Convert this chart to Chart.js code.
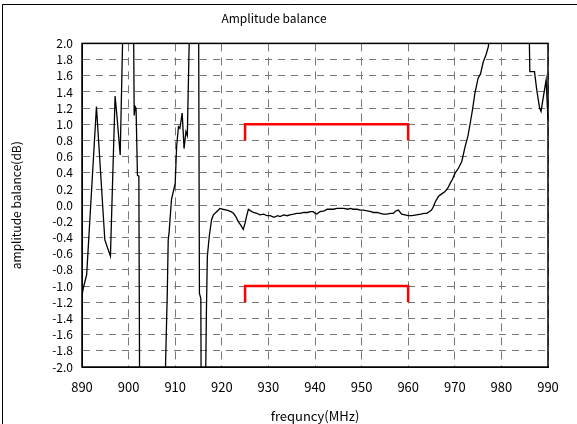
<!DOCTYPE html>
<html>
<head>
<meta charset="utf-8">
<script src="https://cdn.jsdelivr.net/npm/chart.js@4"></script>
<style>
  body { margin: 0; background: #fff; }
  #wrap { width: 577px; height: 424px; }
</style>
</head>
<body>
<div id="wrap"><canvas id="balance-chart" width="577" height="424"></canvas></div>
<script>
const freqMHz = [
  890.0, 890.3, 891.0, 893.1, 894.9, 896.1, 897.1, 897.5, 898.2, 898.7,
  899.0, 901.0, 901.2, 901.4, 901.6, 901.9, 902.2, 902.4, 907.6, 908.0,
  908.3, 908.5, 908.7, 909.2, 910.0, 910.3, 910.7, 911.0, 911.2, 911.5,
  911.9, 912.3, 912.6, 913.0, 913.2, 915.0, 915.2, 915.5, 915.6, 916.4,
  916.7, 916.9, 917.3, 917.8, 918.2, 918.9, 919.6, 920.2, 921.1, 922.0,
  922.5, 923.0, 923.5, 924.1, 924.6, 925.0, 925.3, 925.7, 926.2, 926.8,
  927.5, 928.2, 929.0, 929.7, 930.4, 931.2, 932.0, 932.5, 933.3, 934.0,
  934.6, 935.4, 936.1, 936.8, 937.6, 938.4, 939.0, 939.6, 940.0, 940.4,
  940.8, 941.1, 942.0, 942.6, 943.2, 944.0, 944.7, 945.4, 946.2, 947.0,
  947.6, 948.2, 949.0, 949.8, 950.4, 951.2, 952.0, 952.5, 953.3, 954.0,
  954.7, 955.4, 956.2, 956.8, 957.4, 957.9, 958.3, 958.6, 959.3, 960.0,
  960.8, 961.8, 962.7, 963.4, 964.0, 964.5, 965.0, 965.4, 965.8, 966.5,
  967.2, 967.9, 968.5, 969.0, 969.5, 970.0, 970.8, 971.5, 972.2, 972.8,
  973.3, 973.8, 974.3, 975.0, 975.5, 976.1, 976.7, 977.2, 977.6, 985.9,
  986.1, 987.1, 987.6, 988.2, 988.5, 989.6, 990.0
];
const balanceDb = [
  -1.12, -1.02, -0.86, 1.22, -0.43, -0.63, 1.35, 1.10, 0.62, 2.00,
  2.80, 2.80, 1.11, 1.22, 1.20, 0.37, 0.36, -2.80, -2.80, -1.80,
  -1.09, -0.43, -0.33, 0.07, 0.27, 0.72, 0.97, 0.95, 1.02, 1.14,
  0.70, 0.91, 0.86, 2.00, 2.80, 2.80, -1.09, -1.15, -2.80, -2.80,
  -1.30, -0.63, -0.39, -0.18, -0.12, -0.08, -0.04, -0.05, -0.06, -0.08,
  -0.10, -0.14, -0.20, -0.25, -0.30, -0.22, -0.14, -0.05, -0.07, -0.09,
  -0.10, -0.12, -0.11, -0.13, -0.13, -0.15, -0.13, -0.14, -0.12, -0.13,
  -0.12, -0.11, -0.10, -0.10, -0.09, -0.09, -0.08, -0.08, -0.10, -0.11,
  -0.09, -0.08, -0.07, -0.05, -0.05, -0.05, -0.04, -0.04, -0.04, -0.05,
  -0.04, -0.05, -0.05, -0.06, -0.06, -0.07, -0.08, -0.09, -0.09, -0.10,
  -0.11, -0.11, -0.10, -0.10, -0.07, -0.06, -0.09, -0.11, -0.12, -0.13,
  -0.13, -0.12, -0.11, -0.10, -0.10, -0.08, -0.06, -0.02, 0.04, 0.11,
  0.14, 0.17, 0.21, 0.27, 0.32, 0.39, 0.46, 0.54, 0.72, 0.85,
  1.01, 1.18, 1.38, 1.57, 1.62, 1.77, 1.86, 1.96, 2.20, 2.40,
  1.65, 1.65, 1.42, 1.20, 1.16, 1.55, 1.05
];

// spec limit brackets
const specFreq = [925, 925, 960, 960];
const upperSpec = [0.8, 1.0, 1.0, 0.8];
const lowerSpec = [-1.2, -1.0, -1.0, -1.2];

const xMin = 890, xMax = 990, xStep = 10;
const yMin = -2.0, yMax = 2.0, yStep = 0.2;

const FONT = "'Noto Sans CJK JP', 'Noto Sans', sans-serif";

const pts = (xs, ys) => xs.map((x, i) => ({ x, y: ys[i] }));

const framePlugin = {
    id: 'frame',
    afterDraw(chart) {
        const { ctx, chartArea: a } = chart;
        ctx.save();
        ctx.strokeStyle = '#000';
        ctx.lineWidth = 1.5;
        ctx.strokeRect(a.left, a.top, a.right - a.left, a.bottom - a.top);
        // outer picture border (left and top only, as in the source image)
        ctx.lineWidth = 1;
        ctx.beginPath();
        ctx.moveTo(2.5, 424);
        ctx.lineTo(2.5, 4.5);
        ctx.lineTo(577, 4.5);
        ctx.stroke();
        ctx.restore();
    }
};

const ctx = document.getElementById('balance-chart').getContext('2d');
new Chart(ctx, {
    type: 'line',
    data: {
        datasets: [
            {
                label: 'amplitude balance',
                data: pts(freqMHz, balanceDb),
                borderColor: '#000',
                borderWidth: 1.3,
                pointRadius: 0,
                tension: 0
            },
            {
                label: 'upper limit',
                data: pts(specFreq, upperSpec),
                borderColor: '#ff0000',
                borderWidth: 2.5,
                pointRadius: 0
            },
            {
                label: 'lower limit',
                data: pts(specFreq, lowerSpec),
                borderColor: '#ff0000',
                borderWidth: 2.5,
                pointRadius: 0
            }
        ]
    },
    options: {
        responsive: false,
        animation: false,
        devicePixelRatio: 1,
        layout: { padding: { left: 0, right: 29, top: 0, bottom: 0 } },
        plugins: {
            legend: { display: false },
            tooltip: { enabled: false },
            title: {
                display: true,
                text: 'Amplitude balance',
                color: '#000',
                font: { family: FONT, size: 12, weight: 'normal' },
                padding: { top: 11, bottom: 18 }
            }
        },
        scales: {
            x: {
                type: 'linear',
                min: xMin,
                max: xMax,
                afterFit: s => { s.height = 57; },
                ticks: {
                    stepSize: xStep,
                    autoSkip: false,
                    color: '#000',
                    padding: 12,
                    font: { family: FONT, size: 13 }
                },
                grid: { color: '#777', lineWidth: 1, drawTicks: false },
                border: { display: true, color: '#000', dash: [8, 6] },
                title: {
                    display: true,
                    text: 'frequncy(MHz)',
                    color: '#000',
                    font: { family: FONT, size: 13 },
                    padding: { top: 4, bottom: 0 }
                }
            },
            y: {
                min: yMin,
                max: yMax,
                afterFit: s => { s.width = 82; },
                ticks: {
                    stepSize: yStep,
                    autoSkip: false,
                    color: '#000',
                    padding: 9,
                    font: { family: FONT, size: 12 },
                    callback: v => (Math.abs(v) < 1e-9 ? 0 : v).toFixed(1)
                },
                grid: { color: '#777', lineWidth: 1, drawTicks: false },
                border: { display: true, color: '#000', dash: [7, 6] },
                title: {
                    display: true,
                    text: 'amplitude balance(dB)',
                    color: '#000',
                    font: { family: FONT, size: 12 },
                    padding: { top: 9, bottom: 4 }
                }
            }
        }
    },
    plugins: [framePlugin]
});
</script>
</body>
</html>
